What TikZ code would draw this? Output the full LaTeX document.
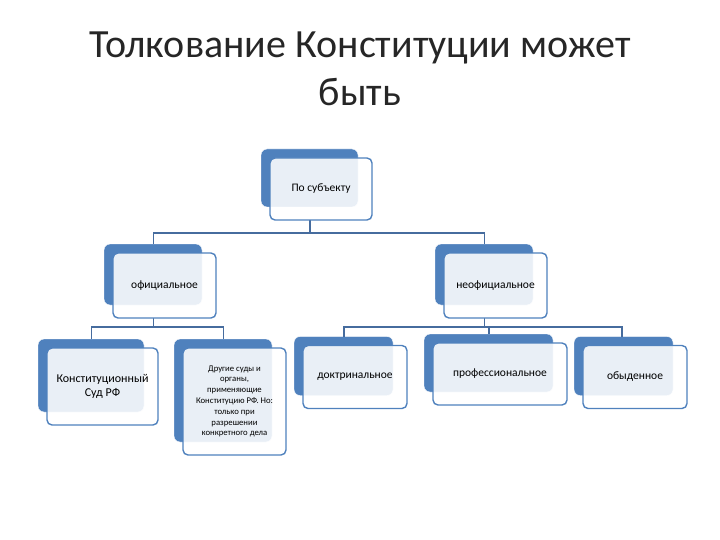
\documentclass[tikz,border=0pt]{standalone}
\usepackage{fontspec}
\setmainfont{Carlito}
\usetikzlibrary{positioning,backgrounds,calc}
\definecolor{accentblue}{RGB}{79,129,189}
\definecolor{linkblue}{RGB}{70,108,158}
\tikzset{
  front/.style={draw=accentblue, line width=1.4pt, rounded corners=5pt,
    fill=white, fill opacity=0.88, text opacity=1, outer sep=0pt,
    align=center, font=\fontsize{11.5}{13.5}\selectfont},
  back/.style={draw=white, line width=0.4pt, fill=accentblue, rounded corners=6pt},
  link/.style={draw=linkblue, line width=1.3pt}
}
\begin{document}
\begin{tikzpicture}[x=1pt,y=-1pt]
    \useasboundingbox (0,0) rectangle (720,540);

    \node[font=\fontsize{40}{48}\selectfont, align=center, text=black!85] (title) at (360,69)
      {Толкование Конституции может\\быть};

    % top level
    \node[front, minimum width=102, minimum height=62] (subj) at (321,189) {По субъекту};

    % level 1
    \node[front, minimum width=103, minimum height=65] (off)   at (164.5,285.5) {официальное};
    \node[front, minimum width=103, minimum height=65] (unoff) at (495.5,285.5) {неофициальное};

    % level 2
    \node[front, minimum width=111, minimum height=77, font=\fontsize{12}{14.5}\selectfont] (court) at (102.5,386.5)
      {Конституционный\\Суд РФ};
    \node[front, minimum width=103, minimum height=107, font=\fontsize{8.7}{10.8}\selectfont] (other) at (234.5,401.5)
      {Другие суды и\\органы,\\применяющие\\Конституцию РФ. Но:\\только при\\разрешении\\конкретного дела};
    \node[front, minimum width=104, minimum height=63] (doctr) at (355,377) {доктринальное};
    \node[front, minimum width=134, minimum height=62] (prof)  at (500,374) {профессиональное};
    \node[front, minimum width=104, minimum height=63] (daily) at (635,377) {обыденное};

    \begin{scope}[on background layer]
      \foreach \n in {subj,off,unoff,court,other,doctr,prof,daily}
        \draw[back] ([shift={(-9,-9)}]\n.north west) rectangle ([shift={(-14,-13)}]\n.south east);

      \draw[link] ([xshift=-11pt]subj.south) -- ++(0,13) -| ([xshift=-11pt,yshift=9pt]off.north);
      \draw[link] ([xshift=-11pt]subj.south) -- ++(0,13) -| ([xshift=-11pt,yshift=9pt]unoff.north);

      \draw[link] ([xshift=-11pt]off.south) -- ++(0,9) -| ([xshift=-11pt,yshift=9pt]court.north);
      \draw[link] ([xshift=-11pt]off.south) -- ++(0,9) -| ([xshift=-11pt,yshift=9pt]other.north);

      \draw[link] ([xshift=-11pt]unoff.south) -- ++(0,9) -| ([xshift=-11pt,yshift=9pt]doctr.north);
      \draw[link] ([xshift=-11pt]unoff.south) -- ++(0,9) -| ([xshift=-11pt,yshift=9pt]prof.north);
      \draw[link] ([xshift=-11pt]unoff.south) -- ++(0,9) -| ([xshift=-13pt,yshift=9pt]daily.north);
    \end{scope}
\end{tikzpicture}
\end{document}
